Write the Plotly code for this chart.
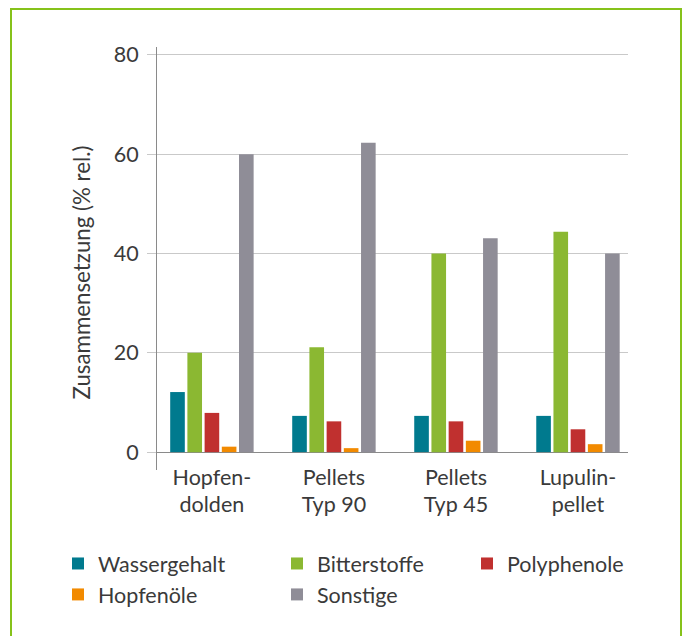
import plotly.graph_objects as go

categories = ["Hopfen-<br>dolden", "Pellets<br>Typ 90", "Pellets<br>Typ 45", "Lupulin-<br>pellet"]
series_names = ["Wassergehalt", "Bitterstoffe", "Polyphenole", "Hopfenöle", "Sonstige"]
wassergehalt = [12.1, 7.3, 7.3, 7.3]
bitterstoffe = [20.0, 21.1, 40.0, 44.4]
polyphenole = [7.9, 6.2, 6.2, 4.6]
hopfenoele = [1.1, 0.8, 2.3, 1.6]
sonstige = [60.0, 62.3, 43.1, 40.0]
y_ticks = [0, 20, 40, 60, 80]
y_title = "Zusammensetzung (% rel.)"

colors = ["#007a8e", "#8bb832", "#c0302f", "#f28a00", "#8f8d97"]
legends = ["legend", "legend2", "legend3", "legend", "legend2"]
values = [wassergehalt, bitterstoffe, polyphenole, hopfenoele, sonstige]

W, H = 687, 636
L, R, T, B = 157, 59, 47, 166
pw, ph = W - L - R, H - T - B

def px_x(x):
    return (x - L) / pw

def px_y(y):
    return (H - B - y) / ph

fig = go.Figure()
for name, vals, col, lg in zip(series_names, values, colors, legends):
    fig.add_trace(go.Bar(name=name, x=categories, y=vals, marker=dict(color=col, line=dict(width=0)),
                         legend=lg))

font = dict(family="Lato, 'Open Sans', sans-serif", size=21.5, color="#3a3a3a")
title_font = dict(family="Lato, 'Open Sans', sans-serif", size=22.3, color="#3a3a3a")
legend_common = dict(orientation="v", xanchor="left", yanchor="top", font=font,
                     bgcolor="rgba(0,0,0,0)", tracegroupgap=0)

fig.update_layout(
    width=W, height=H,
    margin=dict(l=L, r=R, t=T, b=B),
    paper_bgcolor="white", plot_bgcolor="white",
    font=font,
    barmode="group", bargap=0.295, bargroupgap=0.15,
    legend=dict(x=px_x(58), y=px_y(543), **legend_common),
    legend2=dict(x=px_x(277), y=px_y(543), **legend_common),
    legend3=dict(x=px_x(467), y=px_y(543), **legend_common),
    xaxis=dict(range=[-0.45, 3.41], showline=False, showgrid=False, ticks="",
               tickfont=font, fixedrange=True, ticklabelstandoff=-8),
    yaxis=dict(range=[-3.6, 81.6], tickvals=y_ticks, showline=True, linecolor="#8a8a8a",
               linewidth=1, showgrid=True, gridcolor="#c9c9c9", gridwidth=1,
               zeroline=True, zerolinecolor="#8a8a8a", zerolinewidth=1,
               ticks="outside", ticklen=9, tickcolor="#c9c9c9", tickfont=font,
               ticklabelstandoff=4, fixedrange=True),
    annotations=[dict(text=y_title, textangle=-90, xref="paper", yref="paper",
                      x=px_x(81), y=px_y(272.5), xanchor="center", yanchor="middle",
                      showarrow=False, font=title_font)],
    shapes=[dict(type="rect", xref="paper", yref="paper",
                 x0=px_x(11), x1=px_x(681), y0=px_y(660), y1=px_y(9),
                 line=dict(color="#86c21a", width=2), fillcolor="rgba(0,0,0,0)", layer="below")],
)

fig.write_html("out.html", config={"displayModeBar": False},
               post_script="document.body.style.margin='0';")
